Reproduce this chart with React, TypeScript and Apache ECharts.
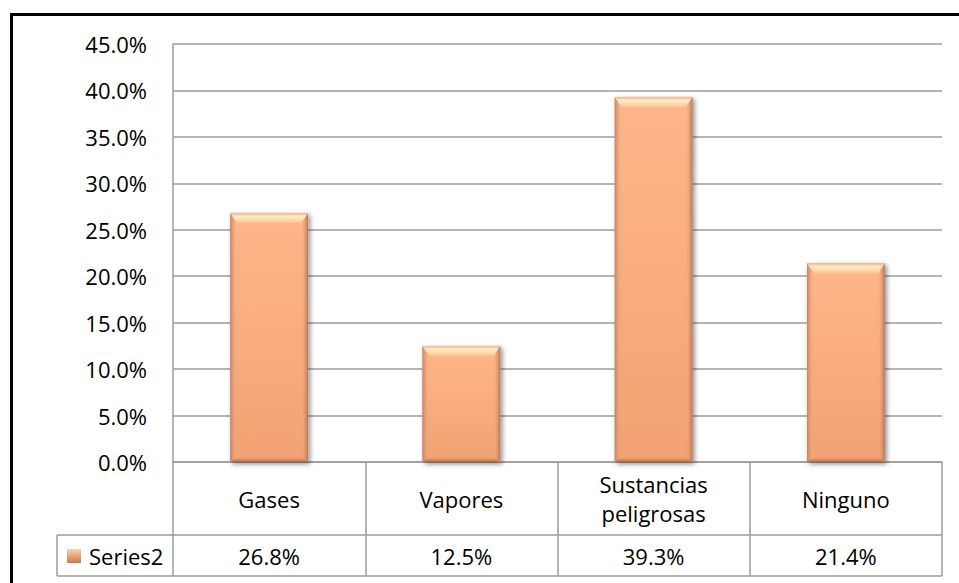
import React, { useEffect, useRef } from "react";
import * as echarts from "echarts";

// Chart data
const categories = ["Gases", "Vapores", "Sustancias\npeligrosas", "Ninguno"];
const values = [26.8, 12.5, 39.3, 21.4];
const seriesName = "Series2";
const yMin = 0;
const yMax = 45;
const yStep = 5;

const FONT = "'Open Sans', 'Noto Sans', sans-serif";
const FONT_SIZE = 22;
const LINE = "#9c9c9c";

// Layout of the plot area and the data table below it
const W = 959;
const H = 583;
const GRID_LEFT = 173;
const GRID_RIGHT = 942;
const GRID_TOP = 44;
const GRID_BOTTOM = 462;
const ROW1_BOTTOM = 535;
const ROW2_BOTTOM = 576;
const TABLE_LEFT = 57;

const pct = (v: number) => `${v.toFixed(1)}%`;

function bevelBar(params: any, api: any) {
  const idx = api.value(0);
  const val = api.value(1);
  const top = api.coord([idx, val]);
  const base = api.coord([idx, 0]);
  const band = api.size([1, 0])[0];
  const w = band * 0.405;
  const x0 = top[0] - w / 2;
  const x1 = x0 + w;
  const y0 = top[1];
  const y1 = base[1];
  const bx = 7; // side bevel width
  const bt = 10; // top bevel height
  const bb = 5; // bottom bevel height
  const G = echarts.graphic.LinearGradient;
  return {
    type: "group",
    children: [
      {
        type: "rect",
        shape: { x: x0, y: y0, width: w, height: y1 - y0 },
        style: {
          fill: new G(0, 0, 0, 1, [
            { offset: 0, color: "#FFB68A" },
            { offset: 1, color: "#F2A273" },
          ]),
          shadowBlur: 5,
          shadowColor: "rgba(0,0,0,0.45)",
          shadowOffsetX: 2,
          shadowOffsetY: 2,
        },
      },
      {
        type: "polygon",
        shape: { points: [[x0, y0], [x0 + bx, y0 + bt], [x0 + bx, y1 - bb], [x0, y1]] },
        style: {
          fill: new G(0, 0, 1, 0, [
            { offset: 0, color: "#C08462" },
            { offset: 1, color: "rgba(250,174,128,0)" },
          ]),
        },
      },
      {
        type: "polygon",
        shape: { points: [[x1, y0], [x1 - bx, y0 + bt], [x1 - bx, y1 - bb], [x1, y1]] },
        style: {
          fill: new G(0, 0, 1, 0, [
            { offset: 0, color: "rgba(250,174,128,0)" },
            { offset: 1, color: "#B07555" },
          ]),
        },
      },
      {
        type: "polygon",
        shape: { points: [[x0, y1], [x0 + bx, y1 - bb], [x1 - bx, y1 - bb], [x1, y1]] },
        style: {
          fill: new G(0, 0, 0, 1, [
            { offset: 0, color: "rgba(240,160,110,0.2)" },
            { offset: 1, color: "#A86644" },
          ]),
        },
      },
      {
        type: "polygon",
        shape: { points: [[x0, y0], [x1, y0], [x1 - bx, y0 + bt], [x0 + bx, y0 + bt]] },
        style: {
          fill: new G(0, 0, 0, 1, [
            { offset: 0, color: "#F1B285" },
            { offset: 0.35, color: "#FFEEC6" },
            { offset: 1, color: "#FFC395" },
          ]),
        },
      },
    ],
  };
}

export default function App() {
  const ref = useRef<HTMLDivElement>(null);

  useEffect(() => {
    if (!ref.current) return;
    const chart = echarts.init(ref.current, undefined, { renderer: "svg" });
    const G = echarts.graphic.LinearGradient;

    chart.setOption({
      animation: false,
      backgroundColor: "#ffffff",
      textStyle: { fontFamily: FONT },
      grid: {
        left: GRID_LEFT,
        right: W - GRID_RIGHT,
        top: GRID_TOP,
        bottom: H - GRID_BOTTOM,
        containLabel: false,
      },
      legend: {
        data: [{ name: seriesName, icon: "rect" }],
        left: 62,
        top: 540,
        itemWidth: 14,
        itemHeight: 14,
        itemGap: 0,
        textStyle: {
          fontFamily: FONT,
          fontSize: FONT_SIZE,
          fontWeight: "normal",
          color: "#000",
          padding: [0, 0, 0, 3],
        },
        selectedMode: false,
      },
      xAxis: [
        {
          type: "category",
          data: categories,
          position: "bottom",
          boundaryGap: true,
          axisLine: { show: true, lineStyle: { color: LINE, width: 1.5 } },
          axisTick: {
            show: true,
            inside: false,
            length: ROW2_BOTTOM - GRID_BOTTOM,
            lineStyle: { color: LINE, width: 1.5 },
          },
          axisLabel: {
            margin: (ROW1_BOTTOM - GRID_BOTTOM) / 2,
            verticalAlign: "middle",
            fontFamily: FONT,
            fontSize: FONT_SIZE,
            lineHeight: 29,
            color: "#000",
            interval: 0,
          },
          splitLine: { show: false },
        },
        {
          type: "category",
          data: values.map(pct),
          position: "bottom",
          boundaryGap: true,
          axisLine: { show: false },
          axisTick: { show: false },
          axisLabel: {
            margin: (ROW1_BOTTOM + ROW2_BOTTOM) / 2 - GRID_BOTTOM,
            verticalAlign: "middle",
            fontFamily: FONT,
            fontSize: FONT_SIZE,
            color: "#000",
            interval: 0,
          },
          splitLine: { show: false },
        },
      ],
      yAxis: {
        type: "value",
        min: yMin,
        max: yMax,
        interval: yStep,
        axisLine: { show: true, lineStyle: { color: LINE, width: 1.5 } },
        axisTick: { show: false },
        axisLabel: {
          formatter: (v: number) => pct(v),
          margin: 26,
          fontFamily: FONT,
          fontSize: FONT_SIZE,
          color: "#000",
        },
        splitLine: { show: true, lineStyle: { color: LINE, width: 1.5 } },
      },
      series: [
        {
          name: seriesName,
          type: "custom",
          xAxisIndex: 0,
          yAxisIndex: 0,
          renderItem: bevelBar,
          itemStyle: {
            color: new G(0, 0, 0, 1, [
              { offset: 0, color: "#FFD2A8" },
              { offset: 1, color: "#C97A4E" },
            ]),
          },
          encode: { x: 0, y: 1 },
          data: values.map((v, i) => [i, v]),
          z: 3,
        },
      ],
      graphic: [
        // outer frame (top and left edges)
        { type: "rect", shape: { x: 10, y: 13, width: W - 10, height: 3 }, style: { fill: "#000" }, z: 10 },
        { type: "rect", shape: { x: 10, y: 13, width: 3, height: H - 13 }, style: { fill: "#000" }, z: 10 },
        // data table rules
        {
          type: "line",
          shape: { x1: TABLE_LEFT, y1: ROW1_BOTTOM, x2: GRID_RIGHT, y2: ROW1_BOTTOM },
          style: { stroke: LINE, lineWidth: 1.5 },
        },
        {
          type: "line",
          shape: { x1: TABLE_LEFT, y1: ROW2_BOTTOM, x2: GRID_RIGHT, y2: ROW2_BOTTOM },
          style: { stroke: LINE, lineWidth: 1.5 },
        },
        {
          type: "line",
          shape: { x1: TABLE_LEFT, y1: ROW1_BOTTOM, x2: TABLE_LEFT, y2: ROW2_BOTTOM },
          style: { stroke: LINE, lineWidth: 1.5 },
        },
      ],
    });

    return () => chart.dispose();
  }, []);

  return (
    <div
      ref={ref}
      style={{ position: "fixed", left: 0, top: 0, width: W, height: H, background: "#fff" }}
    />
  );
}
